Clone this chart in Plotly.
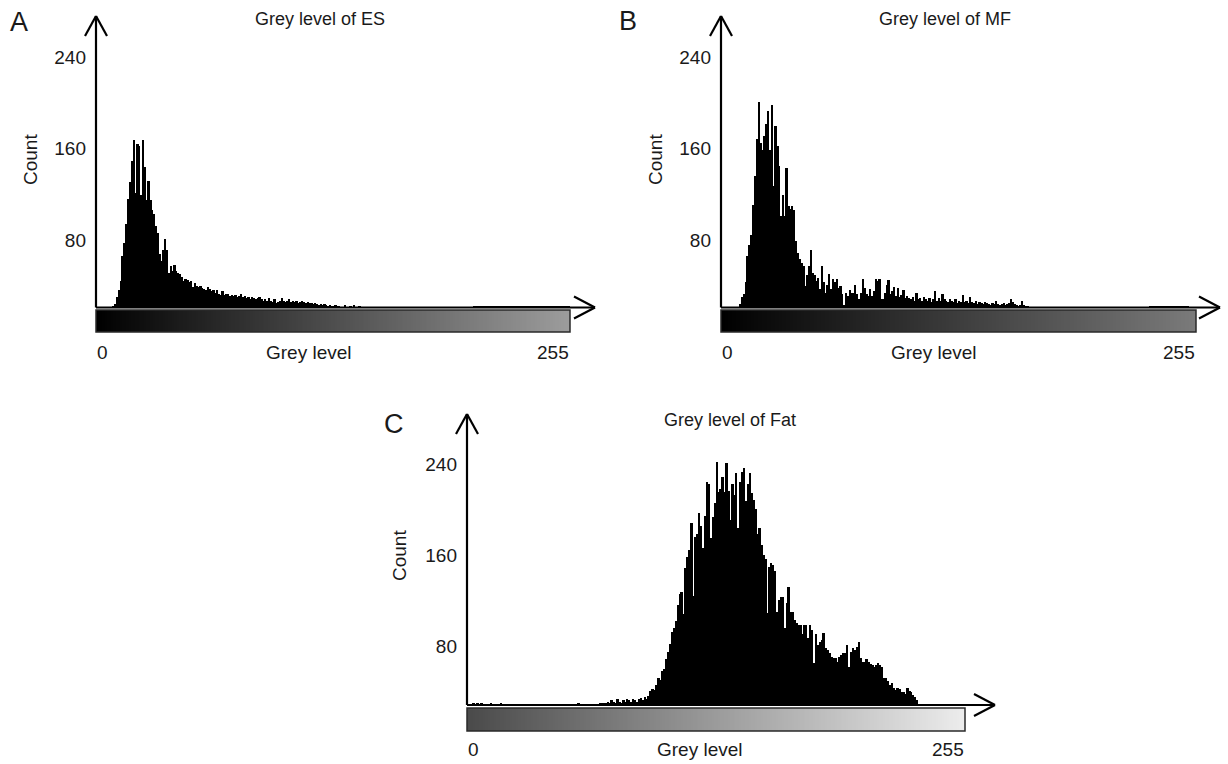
import plotly.graph_objects as go

# ---------------- data ----------------
grey_levels = list(range(256))

es_counts = [
    0, 0, 0, 0, 0, 0, 0, 0, 0, 1, 3, 9, 15, 23, 45, 56, 73, 95, 110, 128,
    146, 100, 143, 141, 98, 146, 123, 94, 111, 94, 85, 82, 71, 65, 47, 41, 50, 60, 50, 30,
    36, 32, 37, 32, 30, 29, 27, 23, 25, 24, 22, 23, 18, 21, 19, 18, 19, 17, 16, 15,
    18, 16, 14, 15, 13, 15, 12, 11, 14, 11, 12, 12, 10, 11, 10, 11, 9, 10, 12, 9,
    10, 8, 9, 7, 9, 8, 7, 8, 9, 7, 6, 7, 6, 8, 6, 5, 7, 4, 5, 6,
    8, 6, 5, 6, 7, 5, 6, 5, 6, 4, 5, 6, 5, 4, 5, 4, 4, 3, 4, 3,
    2, 3, 2, 3, 2, 1, 2, 1, 1, 2, 1, 1, 0, 0, 2, 0, 0, 1, 0, 2,
    0, 0, 1, 0, 0, 0, 0, 0, 0, 0, 0, 0, 0, 0, 0, 0, 0, 0, 0, 0,
    0, 0, 0, 0, 0, 0, 0, 0, 0, 0, 0, 0, 0, 0, 0, 0, 0, 0, 0, 0,
    0, 0, 0, 0, 0, 0, 0, 0, 0, 0, 0, 0, 0, 0, 0, 0, 0, 0, 0, 0,
    0, 0, 0, 0, 1, 1, 1, 1, 1, 1, 1, 1, 1, 1, 1, 1, 1, 1, 1, 1,
    1, 1, 1, 1, 1, 1, 1, 1, 1, 1, 1, 1, 1, 1, 1, 1, 1, 1, 1, 1,
    1, 1, 1, 1, 1, 1, 1, 1, 1, 1, 1, 1, 1, 1, 1, 1,
]

mf_counts = [
    0, 0, 0, 0, 0, 0, 0, 0, 0, 0, 3, 9, 12, 22, 45, 55, 63, 90, 115, 147,
    180, 144, 138, 150, 160, 172, 138, 177, 106, 159, 141, 124, 80, 98, 80, 122, 89, 86, 89, 85,
    58, 48, 42, 39, 36, 19, 28, 36, 50, 30, 28, 23, 26, 16, 36, 22, 13, 20, 29, 16,
    25, 22, 25, 17, 19, 12, 2, 13, 10, 15, 13, 13, 20, 12, 7, 13, 25, 17, 12, 10,
    16, 10, 14, 25, 23, 25, 7, 7, 13, 20, 24, 12, 14, 18, 10, 17, 9, 11, 15, 8,
    10, 8, 7, 9, 6, 13, 7, 8, 6, 9, 7, 6, 8, 5, 7, 14, 6, 8, 6, 12,
    7, 6, 5, 7, 6, 5, 7, 4, 6, 5, 11, 5, 6, 4, 9, 5, 4, 6, 3, 5,
    4, 3, 5, 4, 3, 2, 4, 3, 6, 3, 2, 3, 4, 2, 3, 4, 7, 5, 3, 2,
    1, 2, 6, 2, 1, 1, 0, 0, 0, 0, 0, 0, 0, 0, 0, 0, 0, 0, 0, 0,
    0, 0, 0, 0, 0, 0, 0, 0, 0, 0, 0, 0, 0, 0, 0, 0, 0, 0, 0, 0,
    0, 0, 0, 0, 0, 0, 0, 0, 0, 0, 0, 0, 0, 0, 0, 0, 0, 0, 0, 0,
    0, 0, 0, 0, 0, 0, 0, 0, 0, 0, 0, 1, 1, 1, 1, 1, 1, 1, 1, 1,
    1, 1, 1, 1, 1, 1, 1, 1, 1, 1, 1, 1, 0, 0, 0, 0,
]

fat_counts = [
    0, 0, 0, 1, 0, 1, 0, 1, 0, 0, 0, 0, 1, 0, 0, 0, 0, 1, 0, 0,
    0, 0, 0, 0, 0, 0, 0, 0, 0, 0, 0, 0, 0, 0, 0, 0, 0, 0, 0, 0,
    0, 0, 0, 0, 0, 0, 0, 0, 0, 0, 0, 0, 0, 0, 0, 0, 0, 1, 0, 0,
    0, 0, 0, 0, 0, 0, 0, 0, 1, 2, 1, 2, 3, 2, 4, 3, 2, 5, 3, 2,
    4, 3, 5, 4, 3, 5, 4, 3, 5, 6, 4, 7, 5, 8, 12, 14, 13, 18, 24, 22,
    30, 32, 40, 47, 54, 64, 68, 74, 88, 98, 99, 80, 120, 130, 136, 160, 96, 148, 150, 169,
    157, 138, 166, 196, 194, 147, 165, 178, 214, 187, 190, 200, 187, 213, 188, 163, 194, 185, 204, 156,
    196, 205, 208, 179, 194, 204, 186, 180, 172, 150, 156, 141, 132, 128, 81, 121, 125, 123, 118, 82,
    92, 95, 95, 68, 90, 104, 82, 82, 75, 72, 70, 70, 62, 70, 70, 59, 70, 66, 37, 62,
    53, 55, 57, 63, 50, 48, 46, 42, 41, 41, 38, 42, 44, 46, 46, 53, 33, 47, 50, 48,
    51, 55, 41, 38, 38, 40, 38, 36, 35, 33, 35, 37, 35, 33, 24, 24, 21, 18, 19, 15,
    13, 15, 14, 11, 11, 10, 15, 12, 11, 9, 7, 4, 0, 0, 0, 0, 0, 0, 0, 0,
    0, 0, 0, 0, 0, 0, 0, 0, 0, 0, 0, 0, 0, 0, 0, 0,
]

panel_letters = ["A", "B", "C"]
panel_titles = ["Grey level of ES", "Grey level of MF", "Grey level of Fat"]
count_ticks = [80, 160, 240]
x_end_labels = ["0", "255"]
x_title = "Grey level"
y_title = "Count"

# ---------------- layout (pixel geometry) ----------------
W, H = 1228, 764
FONT = "Liberation Sans, Arial, Helvetica, sans-serif"
TXT = "#1a1a1a"


def fx(x):
    return x / W


def fy(y):
    return 1 - y / H


panels = [
    dict(counts=es_counts, ax=96, right=570, base=307.5, top=16, g_top=310, g_bot=332,
         tip=595, k=0.874, shift=24, grad=["#000000", "#9c9c9c"],
         letter=(19, 22), title=(320, 19), count=(30, 160), lab_y=352),
    dict(counts=mf_counts, ax=721, right=1196, base=307.5, top=16, g_top=310, g_bot=332,
         tip=1220, k=0.874, shift=24, grad=["#000000", "#7a7a7a"],
         letter=(628, 21), title=(945, 19), count=(655, 160), lab_y=352),
    dict(counts=fat_counts, ax=467, right=965, base=705, top=414, g_top=708, g_bot=731,
         tip=995, k=0.879, shift=32, grad=["#4a4a4a", "#ececec"],
         letter=(394, 424), title=(730, 420), count=(399, 556), lab_y=749),
]

fig = go.Figure()
shapes = []
annotations = []
layout_axes = {}

for i, p in enumerate(panels):
    n = i + 1
    xa = "x" if n == 1 else f"x{n}"
    ya = "y" if n == 1 else f"y{n}"
    ga = f"y{n + 3}"
    xkey = "xaxis" if n == 1 else f"xaxis{n}"
    ykey = "yaxis" if n == 1 else f"yaxis{n}"
    gkey = f"yaxis{n + 3}"

    fig.add_trace(go.Bar(
        x=grey_levels, y=p["counts"], xaxis=xa, yaxis=ya,
        marker=dict(color="#000000", line=dict(width=0)),
        width=1.0, showlegend=False, hoverinfo="x+y",
    ))
    fig.add_trace(go.Heatmap(
        x=grey_levels, y=[0], z=[grey_levels], xaxis=xa, yaxis=ga,
        colorscale=[[0, p["grad"][0]], [1, p["grad"][1]]], zmin=0, zmax=255,
        showscale=False, hoverinfo="skip",
    ))

    layout_axes[xkey] = dict(domain=[fx(p["ax"]), fx(p["right"])], range=[-0.5, 255.5],
                             anchor=ya, visible=False, fixedrange=True, automargin=False)
    layout_axes[ykey] = dict(
        domain=[fy(p["base"]), fy(p["top"])], range=[0, (p["base"] - p["top"]) * p["k"]],
        anchor=xa, showgrid=False, zeroline=False, showline=False, ticks="",
        tickvals=count_ticks, ticktext=[str(t) for t in count_ticks],
        tickfont=dict(family=FONT, size=19, color=TXT),
        ticklabelshift=p["shift"], ticklabelstandoff=9, fixedrange=True, automargin=False,
    )
    layout_axes[gkey] = dict(domain=[fy(p["g_bot"]), fy(p["g_top"])], range=[-0.5, 0.5],
                             anchor=xa, visible=False, fixedrange=True, automargin=False)

    # gradient box outline
    shapes.append(dict(type="rect", xref="paper", yref="paper",
                       x0=fx(p["ax"]), x1=fx(p["right"]), y0=fy(p["g_bot"]), y1=fy(p["g_top"]),
                       line=dict(color="#2a2a2a", width=1.5)))
    # axes with open arrow heads
    lw = dict(color="#000000", width=2.2)
    ax, base, top, tip = p["ax"], p["base"], p["top"], p["tip"]
    segs = [
        (ax, base, ax, top), (ax - 11, top + 20, ax, top), (ax + 11, top + 20, ax, top),
        (ax, base, tip, base), (tip - 21, base - 11, tip, base), (tip - 21, base + 11, tip, base),
    ]
    for x0, y0, x1, y1 in segs:
        shapes.append(dict(type="line", xref="paper", yref="paper",
                           x0=fx(x0), y0=fy(y0), x1=fx(x1), y1=fy(y1), line=lw))

    def ann(text, x, y, size=19, xanchor="center", angle=0):
        annotations.append(dict(text=text, x=fx(x), y=fy(y), xref="paper", yref="paper",
                                showarrow=False, xanchor=xanchor, yanchor="middle",
                                textangle=angle, font=dict(family=FONT, size=size, color=TXT)))

    ann(panel_letters[i], p["letter"][0], p["letter"][1], size=27)
    ann(panel_titles[i], p["title"][0], p["title"][1], size=18)
    ann(y_title, p["count"][0], p["count"][1], size=19, angle=-90)
    ann(x_end_labels[0], p["ax"] - 1, p["lab_y"], xanchor="left")
    ann(x_end_labels[1], p["right"] + 1, p["lab_y"], xanchor="right")
    ann(x_title, (p["ax"] + p["right"]) / 2 - 24 + (8 if i == 2 else 0), p["lab_y"])

fig.update_layout(
    width=W, height=H, margin=dict(l=0, r=0, t=0, b=0, pad=0, autoexpand=False),
    paper_bgcolor="white", plot_bgcolor="white",
    bargap=0, barmode="overlay", showlegend=False,
    shapes=shapes, annotations=annotations,
    **layout_axes,
)

fig.write_html("out.html", config={"displayModeBar": False},
               post_script="document.body.style.margin='0';")
